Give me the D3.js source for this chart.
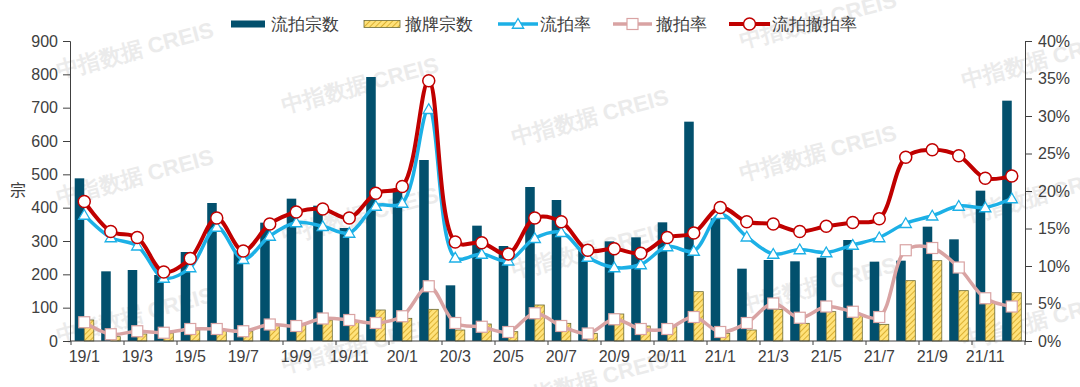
<!DOCTYPE html>
<html>
<head>
<meta charset="utf-8">
<script src="https://cdn.jsdelivr.net/npm/d3@7"></script>
<style>
  body { margin: 0; background: #fff; }
  svg { display: block; }
  text { font-family: "Liberation Sans", Arial, sans-serif; }
  .cn { font-family: "Noto Sans CJK SC", sans-serif; }
</style>
</head>
<body>
<div id="chart"></div>
<script>
// 数据
var months = ["19/1","19/2","19/3","19/4","19/5","19/6","19/7","19/8","19/9","19/10","19/11","19/12",
              "20/1","20/2","20/3","20/4","20/5","20/6","20/7","20/8","20/9","20/10","20/11","20/12",
              "21/1","21/2","21/3","21/4","21/5","21/6","21/7","21/8","21/9","21/10","21/11","21/12"];
var liupaiCount = [488,209,213,198,267,414,265,355,427,406,339,792,
                   453,543,167,346,285,462,423,280,299,311,356,658,
                   368,217,243,239,250,303,238,241,343,305,451,721];
var chepaiCount = [63,13,21,24,33,33,30,48,48,63,58,93,
                   68,95,33,51,28,108,53,23,81,45,43,148,
                   23,33,95,53,88,80,50,181,241,151,118,145];
var liupaiRate = [16.8,13.8,12.7,8.4,9.8,15.2,10.9,14.0,15.8,15.3,14.4,18.0,
                  18.4,30.9,11.1,11.6,10.7,13.7,14.5,11.2,9.8,10.2,12.6,12.0,
                  16.9,13.9,11.6,12.2,11.8,12.8,13.8,15.7,16.7,18.0,17.8,19.0];
var chepaiRate = [2.5,0.9,1.3,1.1,1.6,1.6,1.3,2.2,2.0,3.0,2.8,2.4,
                  3.3,7.3,2.4,1.9,1.2,3.7,2.0,1.0,2.9,1.6,1.6,3.2,
                  1.2,2.4,5.0,3.1,4.6,3.9,3.2,12.1,12.4,9.8,5.7,4.6];
var totalRate = [18.6,14.6,13.8,9.2,11.0,16.4,12.0,15.6,17.2,17.6,16.4,19.7,
                 20.6,34.7,13.2,13.1,11.6,16.4,15.9,12.1,12.3,11.7,13.8,14.4,
                 17.8,15.9,15.6,14.6,15.3,15.8,16.3,24.5,25.5,24.7,21.7,22.0];
var leftTicks = [0,100,200,300,400,500,600,700,800,900];
var rightTicks = [0,5,10,15,20,25,30,35,40];

drawChart();

function drawChart() {
    var width = 1080, height = 387;
    var mLeft = 70, mRight = 1025, mTop = 41, mBottom = 341;

    var colDark = "#02506d", colYellow = "#ffe27a", colBlue = "#1cb0e6",
        colPink = "#d9a3a3", colRed = "#c00000", colAxis = "#404040";

    var svg = d3.select("#chart").append("svg")
        .attr("width", width).attr("height", height);

    // 斜线填充
    var defs = svg.append("defs");
    var pat = defs.append("pattern").attr("id", "hatch")
        .attr("patternUnits", "userSpaceOnUse").attr("width", 4).attr("height", 4)
        .attr("patternTransform", "rotate(45)");
    pat.append("rect").attr("width", 4).attr("height", 4).attr("fill", colYellow);
    pat.append("line").attr("x1", 0).attr("y1", 0).attr("x2", 0).attr("y2", 4)
        .attr("stroke", "#d4a520").attr("stroke-width", 1.6);

    // 水印
    var wm = svg.append("g").attr("class", "cn");
    var wmCols = [[135,[50,177,315]],[360,[85,215,345]],[590,[117,250,380]],
                  [818,[20,153,285]],[1040,[60,195,320]]];
    wmCols.forEach(function (c) {
        c[1].forEach(function (y) {
            wm.append("text").attr("transform", "translate(" + c[0] + "," + y + ") rotate(-15)")
                .attr("text-anchor", "middle").attr("dy", "0.35em")
                .style("font-size", "22px").style("font-weight", "bold")
                .attr("fill", "#ebebeb").text("中指数据  CREIS");
        });
    });

    var x = d3.scaleBand().domain(months).range([mLeft + 1, mRight]).paddingInner(0).paddingOuter(0);
    var bw = x.bandwidth();
    var barW = bw * 0.36;
    var yL = d3.scaleLinear().domain([0, 900]).range([mBottom, mTop]);
    var yR = d3.scaleLinear().domain([0, 40]).range([mBottom, mTop]);
    var cx = function (i) { return x(months[i]) + bw / 2; };

    // 柱子
    svg.append("g").selectAll("rect").data(liupaiCount).enter().append("rect")
        .attr("x", function (d, i) { return cx(i) - barW; })
        .attr("y", function (d) { return yL(d); })
        .attr("width", barW)
        .attr("height", function (d) { return mBottom - yL(d); })
        .attr("fill", colDark);
    svg.append("g").selectAll("rect").data(chepaiCount).enter().append("rect")
        .attr("x", function (d, i) { return cx(i); })
        .attr("y", function (d) { return yL(d); })
        .attr("width", barW)
        .attr("height", function (d) { return mBottom - yL(d); })
        .attr("fill", "url(#hatch)").attr("stroke", "#6b6b3a").attr("stroke-width", 0.8);

    // 坐标轴
    var axL = svg.append("g").attr("transform", "translate(" + mLeft + ",0)")
        .call(d3.axisLeft(yL).tickValues(leftTicks).tickSize(7).tickPadding(5));
    var axR = svg.append("g").attr("transform", "translate(" + mRight + ",0)")
        .call(d3.axisRight(yR).tickValues(rightTicks).tickSize(7).tickPadding(6)
            .tickFormat(function (d) { return d + "%"; }));
    [axL, axR].forEach(function (a) {
        a.select(".domain").attr("stroke", colAxis);
        a.selectAll(".tick line").attr("stroke", colAxis);
        a.selectAll("text").attr("fill", colAxis).style("font-size", "16px");
    });

    var axB = svg.append("g");
    axB.append("line").attr("x1", mLeft).attr("x2", mRight).attr("y1", mBottom).attr("y2", mBottom)
        .attr("stroke", colAxis);
    for (var k = 0; k <= months.length; k += 2) {
        var bx = k < months.length ? x(months[k]) : mRight;
        axB.append("line").attr("x1", bx).attr("x2", bx).attr("y1", mBottom).attr("y2", mBottom + 4)
            .attr("stroke", colAxis);
    }
    axB.selectAll("text").data(months.filter(function (m, i) { return i % 2 === 0; }))
        .enter().append("text")
        .attr("x", function (d) { return x(d) + bw / 2; })
        .attr("y", 362).attr("text-anchor", "middle")
        .attr("fill", colAxis).style("font-size", "16px").text(function (d) { return d; });

    svg.append("text").attr("class", "cn").attr("x", 18).attr("y", 196)
        .attr("text-anchor", "middle").attr("fill", colAxis).style("font-size", "16px").text("宗");

    // 折线
    var line = d3.line().x(function (d, i) { return cx(i); }).y(function (d) { return yR(d); })
        .curve(d3.curveCatmullRom.alpha(0.5));

    function drawMarker(g, px, py, color, shape) {
        if (shape === "circle") {
            g.append("circle").attr("cx", px).attr("cy", py).attr("r", 6)
                .attr("fill", "#fff").attr("stroke", color).attr("stroke-width", 1.5);
        } else if (shape === "square") {
            g.append("rect").attr("x", px - 5.5).attr("y", py - 5.5).attr("width", 11).attr("height", 11)
                .attr("fill", "#fff").attr("stroke", color).attr("stroke-width", 1.2);
        } else {
            g.append("path").attr("d", d3.symbol().type(d3.symbolTriangle).size(55)())
                .attr("transform", "translate(" + px + "," + (py + 1) + ")")
                .attr("fill", "#fff").attr("stroke", color).attr("stroke-width", 1.3);
        }
    }
    function drawSeries(data, color, w, shape) {
        svg.append("path").datum(data).attr("d", line).attr("fill", "none")
            .attr("stroke", color).attr("stroke-width", w).attr("stroke-linejoin", "round");
        var g = svg.append("g");
        data.forEach(function (d, i) {
            drawMarker(g, cx(i), yR(d), color, shape);
        });
    }
    drawSeries(liupaiRate, colBlue, 3.5, "triangle");
    drawSeries(chepaiRate, colPink, 3.5, "square");
    drawSeries(totalRate, colRed, 4, "circle");

    // 图例
    var lg = svg.append("g").attr("class", "cn");
    var ly = 24;
    lg.append("rect").attr("x", 231).attr("y", ly - 3.5).attr("width", 34).attr("height", 7).attr("fill", colDark);
    lg.append("rect").attr("x", 364).attr("y", ly - 3.5).attr("width", 36).attr("height", 7)
        .attr("fill", "url(#hatch)").attr("stroke", "#6b6b3a").attr("stroke-width", 0.8);
    var lineItems = [[498, 538, colBlue, 3.5, "triangle"], [613, 652, colPink, 3.5, "square"], [729, 770, colRed, 4, "circle"]];
    lineItems.forEach(function (it) {
        lg.append("line").attr("x1", it[0]).attr("x2", it[1]).attr("y1", ly).attr("y2", ly)
            .attr("stroke", it[2]).attr("stroke-width", it[3]);
        drawMarker(lg, (it[0] + it[1]) / 2, ly, it[2], it[4]);
    });
    var lgText = [[271, "流拍宗数"], [405, "撤牌宗数"], [540, "流拍率"], [656, "撤拍率"], [772, "流拍撤拍率"]];
    lgText.forEach(function (t) {
        lg.append("text").attr("x", t[0]).attr("y", ly).attr("dy", "0.35em")
            .attr("fill", colAxis).style("font-size", "16.5px").text(t[1]);
    });
}
</script>
</body>
</html>
